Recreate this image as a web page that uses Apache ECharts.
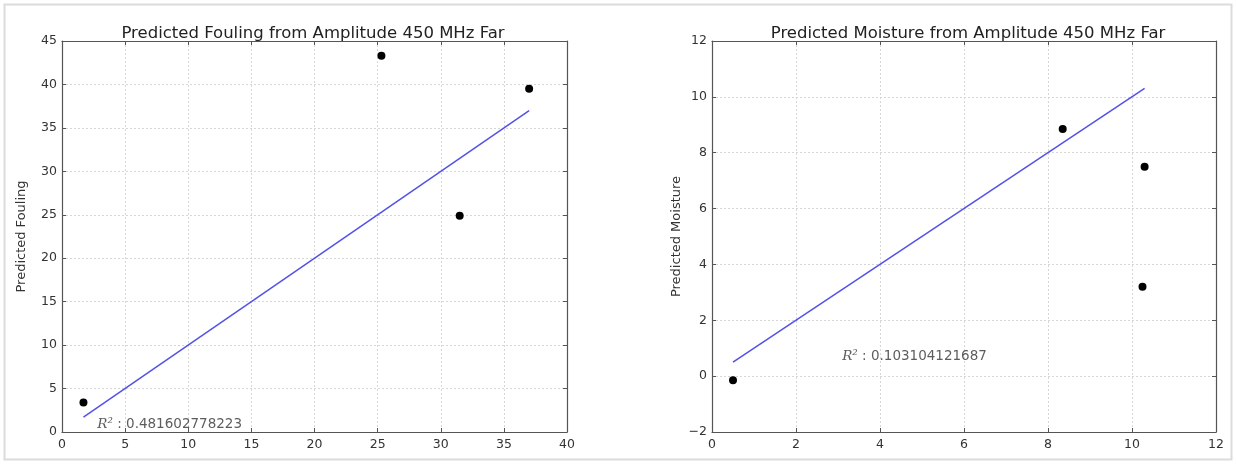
<!DOCTYPE html>
<html>
<head>
<meta charset="utf-8">
<script src="https://cdn.jsdelivr.net/npm/echarts@6/dist/echarts.min.js"></script>
<style>
  html, body { margin: 0; padding: 0; background: #fff; }
  #chart { width: 1236px; height: 464px; }
</style>
</head>
<body>
<div id="chart"></div>
<script>
// Fouling panel: measured points and the fitted line
const foulingPoints = [[1.7, 3.4], [25.3, 43.3], [31.5, 24.9], [37.0, 39.5]];
const foulingFit = [[1.7, 1.7], [37.0, 37.0]];
const foulingR2 = '0.481602778223';
const foulingR2At = [2.8, 0.9];

// Moisture panel: measured points and the fitted line
const moisturePoints = [[0.5, -0.15], [8.35, 8.85], [10.25, 3.2], [10.3, 7.5]];
const moistureFit = [[0.5, 0.5], [10.3, 10.3]];
const moistureR2 = '0.103104121687';
const moistureR2At = [3.1, 0.7];

const titles = ['Predicted Fouling from Amplitude 450 MHz Far', 'Predicted Moisture from Amplitude 450 MHz Far'];
const yNames = ['Predicted Fouling', 'Predicted Moisture'];

const FONT = 'DejaVu Sans';
const labelColor = '#333';
const frameColor = '#555';
const gridLine = { show: true, lineStyle: { color: '#d6d6d6', type: [2, 2], width: 1 } };
const tickStyle = { show: true, inside: true, length: 4, lineStyle: { color: frameColor } };
const frameLine = { show: true, onZero: false, lineStyle: { color: frameColor, width: 1.2 } };
const minus = v => String(v).replace('-', '\u2212');

function bottomX(grid, min, max, interval) {
  return {
    type: 'value', gridIndex: grid, min, max, interval, position: 'bottom',
    axisLine: frameLine, axisTick: tickStyle,
    axisLabel: { color: labelColor, fontFamily: FONT, fontSize: 12.5, margin: 6, formatter: minus },
    splitLine: gridLine
  };
}
function topX(grid, min, max, interval) {
  return {
    type: 'value', gridIndex: grid, min, max, interval, position: 'top',
    axisLine: frameLine, axisTick: tickStyle,
    axisLabel: { show: false }, splitLine: { show: false }
  };
}
function leftY(grid, min, max, interval, name, gap) {
  return {
    type: 'value', gridIndex: grid, min, max, interval, position: 'left',
    name, nameLocation: 'middle', nameGap: gap, nameRotate: 90,
    nameTextStyle: { color: labelColor, fontFamily: FONT, fontSize: 13 },
    axisLine: frameLine, axisTick: tickStyle,
    axisLabel: { color: labelColor, fontFamily: FONT, fontSize: 12.5, margin: 5, formatter: minus },
    splitLine: gridLine
  };
}
function rightY(grid, min, max, interval) {
  return {
    type: 'value', gridIndex: grid, min, max, interval, position: 'right',
    axisLine: frameLine, axisTick: tickStyle,
    axisLabel: { show: false }, splitLine: { show: false }
  };
}

function r2Label(point, value, xi, yi) {
  return {
    type: 'scatter', xAxisIndex: xi, yAxisIndex: yi, symbolSize: 0, silent: true,
    data: [point],
    label: {
      show: true, position: 'right', distance: 0,
      formatter: () => '{r|R\u00b2}{t| : ' + value + '}',
      rich: {
        r: { fontFamily: 'DejaVu Serif', fontStyle: 'italic', fontSize: 13.5, color: labelColor },
        t: { fontFamily: FONT, fontSize: 13.5, color: labelColor }
      }
    }
  };
}

const titleStyle = { fontFamily: FONT, fontSize: 16.5, fontWeight: 'normal', color: '#222' };
const chart = echarts.init(document.getElementById('chart'), null, { renderer: 'canvas' });
chart.setOption({
  backgroundColor: '#fff',
  animation: false,
  graphic: [{
    type: 'rect', shape: { x: 4.5, y: 4.5, width: 1227, height: 455 },
    style: { fill: 'none', stroke: '#dcdcdc', lineWidth: 2 }, silent: true
  }],
  title: [
    { text: titles[0], left: 308, top: 20, textAlign: 'center', textStyle: titleStyle },
    { text: titles[1], left: 963, top: 20, textAlign: 'center', textStyle: titleStyle }
  ],
  grid: [
    { left: 62, right: 669, top: 41, bottom: 32 },
    { left: 712, right: 20, top: 41, bottom: 32 }
  ],
  xAxis: [
    bottomX(0, 0, 40, 5), bottomX(1, 0, 12, 2),
    topX(0, 0, 40, 5), topX(1, 0, 12, 2)
  ],
  yAxis: [
    leftY(0, 0, 45, 5, yNames[0], 34), leftY(1, -2, 12, 2, yNames[1], 29),
    rightY(0, 0, 45, 5), rightY(1, -2, 12, 2)
  ],
  series: [
    { type: 'line', xAxisIndex: 0, yAxisIndex: 0, data: foulingFit, showSymbol: false,
      lineStyle: { color: '#5252e6', width: 1.5 }, silent: true },
    { type: 'scatter', xAxisIndex: 0, yAxisIndex: 0, data: foulingPoints, symbolSize: 8,
      itemStyle: { color: '#000', opacity: 1 } },
    r2Label(foulingR2At, foulingR2, 0, 0),
    { type: 'line', xAxisIndex: 1, yAxisIndex: 1, data: moistureFit, showSymbol: false,
      lineStyle: { color: '#5252e6', width: 1.5 }, silent: true },
    { type: 'scatter', xAxisIndex: 1, yAxisIndex: 1, data: moisturePoints, symbolSize: 8,
      itemStyle: { color: '#000', opacity: 1 } },
    r2Label(moistureR2At, moistureR2, 1, 1)
  ]
});
</script>
</body>
</html>
